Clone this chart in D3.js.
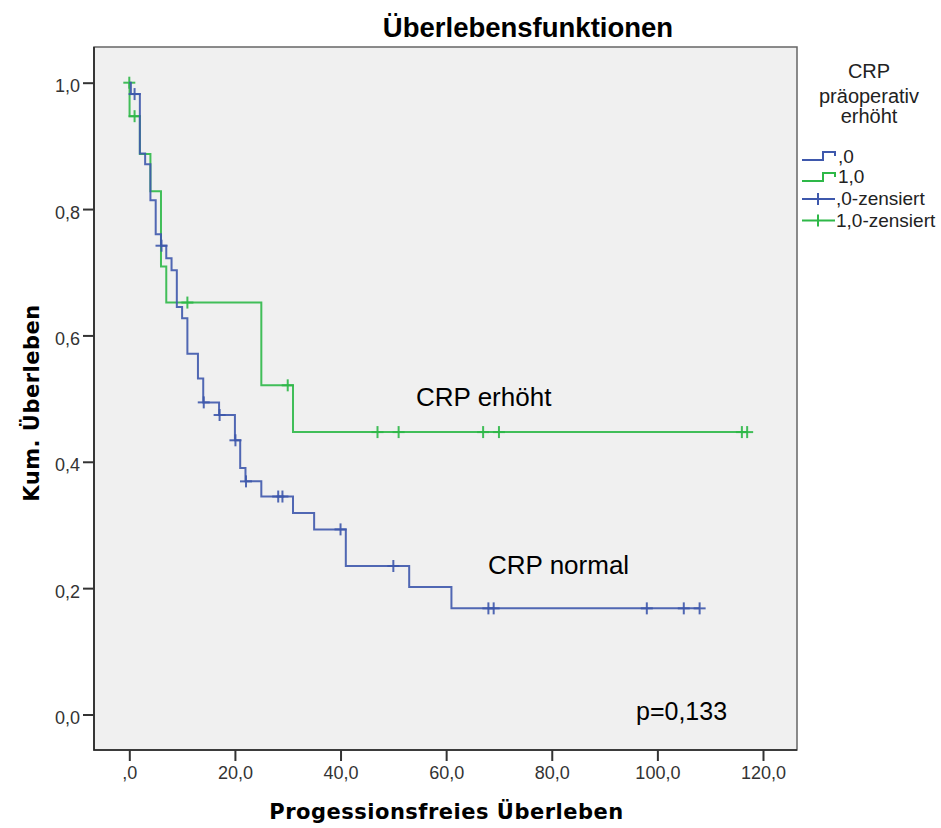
<!DOCTYPE html>
<html>
<head>
<meta charset="utf-8">
<script src="https://cdn.jsdelivr.net/npm/d3@7"></script>
<style>
  body { margin: 0; background: #ffffff; }
  text { font-family: "Liberation Sans", Arial, sans-serif; }
  .axis-title { font-family: "DejaVu Sans", sans-serif; font-weight: bold; letter-spacing: 0.5px; }
</style>
</head>
<body>
<script>
/*
		 DATA
		 Kaplan-Meier steps
*/
// CRP normal (,0)
var normalTimes = [0.3, 2, 3, 4, 5, 6, 7, 8, 9, 10, 11, 13, 14, 17, 20, 21, 22, 25, 31, 35, 41, 53, 61];
var normalSurv  = [0.982, 0.888, 0.871, 0.814, 0.760, 0.742, 0.722, 0.703, 0.645, 0.627, 0.571, 0.532, 0.494, 0.474, 0.434, 0.390, 0.369, 0.345, 0.319, 0.293, 0.235, 0.202, 0.168];
var normalCensored = [1, 6.1, 14.1, 17.1, 20.1, 22.1, 28.2, 29, 40, 50, 68, 69, 98, 105, 108];

// CRP erhöht (1,0)
var highTimes = [0.05, 2, 4, 6, 7, 25, 31];
var highSurv  = [0.947, 0.887, 0.828, 0.709, 0.652, 0.521, 0.447];
var highCensored = [0, 1, 11, 30, 47, 51, 67, 70, 116, 117];

var xTicks = [0, 20, 40, 60, 80, 100, 120];
var xTickLabels = [",0", "20,0", "40,0", "60,0", "80,0", "100,0", "120,0"];
var yTicks = [0, 0.2, 0.4, 0.6, 0.8, 1.0];
var yTickLabels = ["0,0", "0,2", "0,4", "0,6", "0,8", "1,0"];

var legendLabels = [",0", "1,0", ",0-zensiert", "1,0-zensiert"];

/*
		 LAYOUT
*/
var width = 941;
var height = 828;
var frame = {left: 94, right: 797, top: 47, bottom: 750};

var blue = "#3e58ac";
var green = "#2eb848";

var x = d3.scaleLinear().domain([0, 120]).range([129.3, 763]);
var y = d3.scaleLinear().domain([0, 1]).range([714.5, 82.7]);

var svg = d3.select("body").append("svg")
    .attr("width", width)
    .attr("height", height);

// plot background
svg.append("rect")
    .attr("x", frame.left).attr("y", frame.top)
    .attr("width", frame.right - frame.left)
    .attr("height", frame.bottom - frame.top)
    .style("fill", "#f0f0f0")
    .style("stroke", "#666")
    .style("stroke-width", 1.5);

svg.append("path")
    .attr("d", "M" + frame.left + "," + frame.top + "V" + frame.bottom + "H" + frame.right)
    .style("fill", "none")
    .style("stroke", "#222")
    .style("stroke-width", 1.6);

/*
		 AXES
*/
var yAxis = svg.append("g")
    .attr("transform", "translate(" + frame.left + ",0)")
    .call(d3.axisLeft(y).tickValues(yTicks).tickSize(11).tickPadding(3)
        .tickFormat(function(d, i) { return yTickLabels[i]; }));

var xAxis = svg.append("g")
    .attr("transform", "translate(0," + frame.bottom + ")")
    .call(d3.axisBottom(x).tickValues(xTicks).tickSize(11).tickPadding(5)
        .tickFormat(function(d, i) { return xTickLabels[i]; }));

[xAxis, yAxis].forEach(function(a) {
  a.select(".domain").remove();
  a.selectAll(".tick line").style("stroke", "#333").style("stroke-width", 2);
  a.selectAll(".tick text")
    .style("font-family", "'Liberation Sans', Arial, sans-serif")
    .style("font-size", "18px")
    .style("fill", "#333");
});
yAxis.selectAll(".tick text").attr("dy", "0.5em");

/*
		 CURVES
*/
function stepPoints(times, surv, endTime) {
  var pts = [[0, 1]];
  times.forEach(function(t, i) { pts.push([t, surv[i]]); });
  pts.push([endTime, surv[surv.length - 1]]);
  return pts;
}

function survAt(times, surv, t) {
  var s = 1;
  times.forEach(function(tt, i) { if (tt <= t) s = surv[i]; });
  return s;
}

var line = d3.line()
    .x(function(d) { return x(d[0]); })
    .y(function(d) { return y(d[1]); })
    .curve(d3.curveStepAfter);

function drawGroup(times, surv, censored, color) {
  var endTime = d3.max(censored);
  svg.append("path")
      .datum(stepPoints(times, surv, endTime))
      .attr("d", line)
      .style("fill", "none")
      .style("stroke", color)
      .style("stroke-width", 2)
      .style("opacity", 0.9);

  var marks = svg.append("g").selectAll("g")
      .data(censored)
    .enter().append("g")
      .attr("transform", function(d) {
        return "translate(" + x(d) + "," + y(survAt(times, surv, d)) + ")";
      })
      .style("stroke", color)
      .style("stroke-width", 2)
      .style("opacity", 0.9);
  marks.append("line").attr("x1", 0).attr("x2", 0).attr("y1", -6).attr("y2", 6);
  marks.append("line").attr("x1", -6).attr("x2", 6).attr("y1", 0).attr("y2", 0);
}

drawGroup(highTimes, highSurv, highCensored, green);
drawGroup(normalTimes, normalSurv, normalCensored, blue);

/*
		 TEXTS
*/
svg.append("text")
    .attr("x", 528).attr("y", 37)
    .style("text-anchor", "middle")
    .style("font-weight", "bold")
    .style("font-size", "27.5px")
    .text("Überlebensfunktionen");

svg.append("text")
    .attr("class", "axis-title")
    .attr("x", (frame.left + frame.right) / 2 + 1).attr("y", 819)
    .style("text-anchor", "middle")
    .style("font-size", "21px")
    .text("Progessionsfreies Überleben");

svg.append("text")
    .attr("class", "axis-title")
    .attr("transform", "rotate(-90)")
    .attr("x", -403).attr("y", 39)
    .style("text-anchor", "middle")
    .style("font-size", "21px")
    .text("Kum. Überleben");

svg.append("text").attr("x", 416).attr("y", 406)
    .style("font-size", "26px").text("CRP erhöht");
svg.append("text").attr("x", 488).attr("y", 574)
    .style("font-size", "26px").text("CRP normal");
svg.append("text").attr("x", 636).attr("y", 720)
    .style("font-size", "25px").text("p=0,133");

/*
		 LEGEND
*/
var legend = svg.append("g");
["CRP", "präoperativ", "erhöht"].forEach(function(t, i) {
  legend.append("text")
      .attr("x", 869).attr("y", [78, 103, 123][i])
      .style("text-anchor", "middle")
      .style("font-size", "20px")
      .style("fill", "#222")
      .text(t);
});

var legendY = [160, 181, 199, 220.5];
legendLabels.forEach(function(lab, i) {
  var ly = legendY[i];
  var col = (i % 2 == 0) ? blue : green;
  if (i < 2) {
    legend.append("path")
        .attr("d", "M802," + ly + "H823V" + (ly - 8) + "H835V" + (ly - 4))
        .style("fill", "none").style("stroke", col).style("stroke-width", 2);
  } else {
    legend.append("path")
        .attr("d", "M802," + ly + "H835M818," + (ly - 6) + "V" + (ly + 6))
        .style("fill", "none").style("stroke", col).style("stroke-width", 2);
  }
  legend.append("text")
      .attr("x", i < 2 ? 838 : 836).attr("y", [163, 183, 205, 227][i])
      .style("font-size", "19px")
      .style("fill", "#222")
      .text(lab);
});
</script>
</body>
</html>
